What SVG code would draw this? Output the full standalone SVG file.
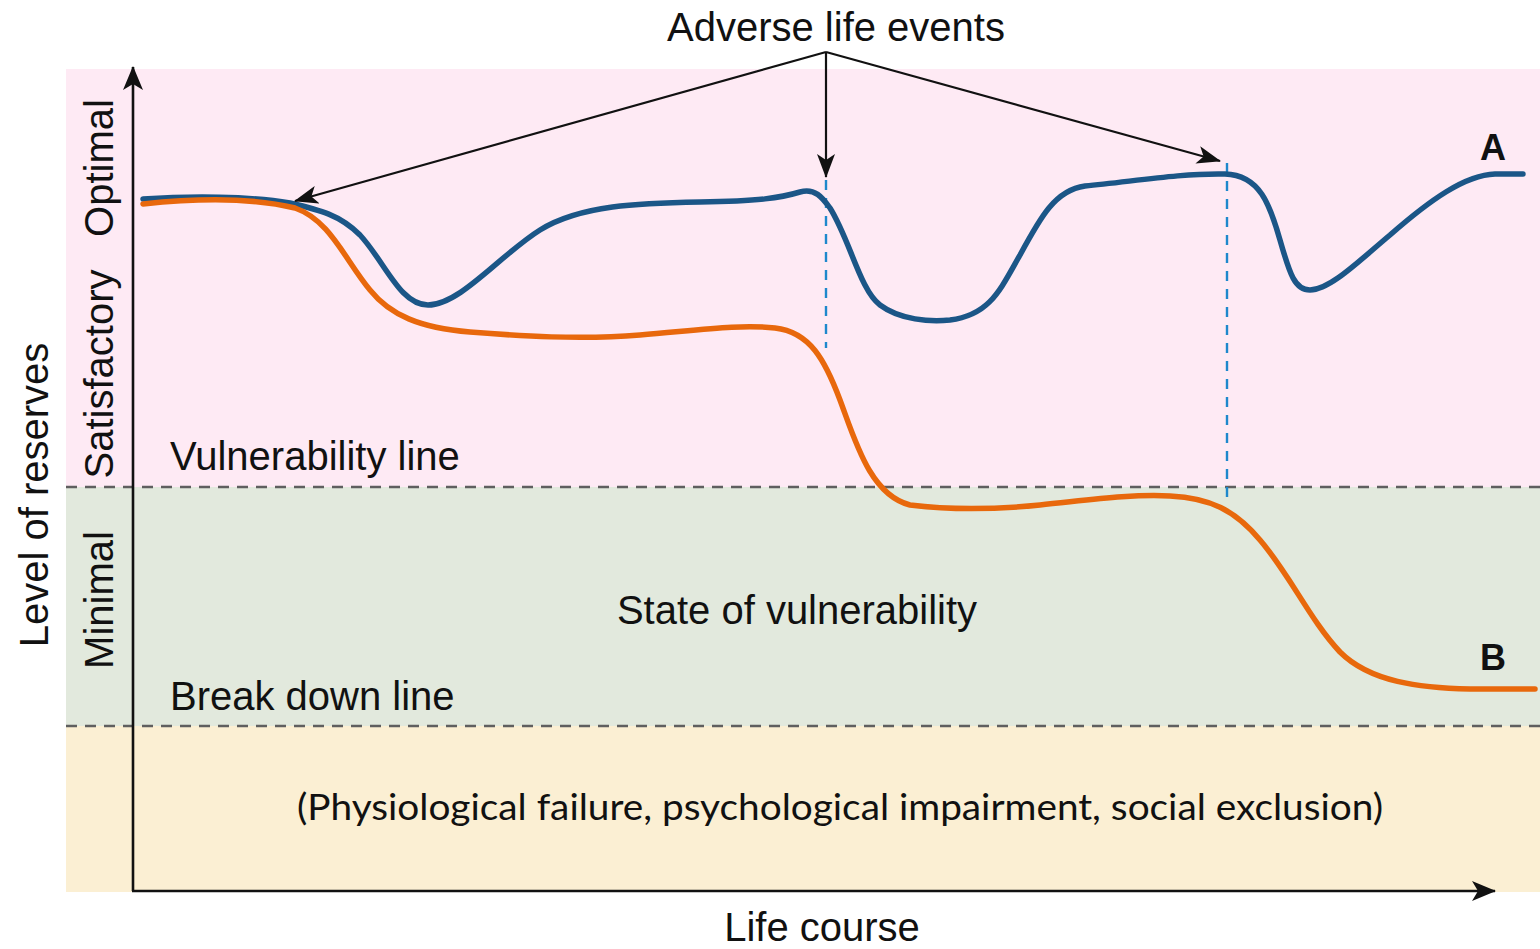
<svg xmlns="http://www.w3.org/2000/svg" width="1540" height="949" viewBox="0 0 1540 949">
<style>
.t{font-family:"Liberation Sans",Arial,sans-serif;fill:#111;}
.lbl{font-size:40px;}
.dash{stroke:#5f5f5f;stroke-width:2.4;stroke-dasharray:11 8;fill:none;}
.vd{stroke:#1e88cc;stroke-width:2.4;stroke-dasharray:10 8;fill:none;}
.ax{stroke:#111;stroke-width:2.6;fill:none;}
.arr{stroke:#111;stroke-width:2.2;fill:none;marker-end:url(#ah);}
</style>
<defs>
<marker id="ah" viewBox="0 0 24 18" refX="23" refY="9" markerWidth="24" markerHeight="18" markerUnits="userSpaceOnUse" orient="auto">
<path d="M0,0 L24,9 L0,18 L6,9 Z" fill="#111"/>
</marker>
<marker id="axh" viewBox="0 0 24 20" refX="23" refY="10" markerWidth="24" markerHeight="20" markerUnits="userSpaceOnUse" orient="auto">
<path d="M0,0 L24,10 L0,20 L6,10 Z" fill="#111"/>
</marker>
</defs>

<g id="zones">
<rect x="66" y="69" width="1474" height="418" fill="#feeaf4"/>
<rect x="66" y="487" width="1474" height="239" fill="#e2e9dd"/>
<rect x="66" y="726" width="1474" height="166" fill="#fbefd3"/>
<line class="dash" x1="66" y1="487" x2="1540" y2="487"/>
<line class="dash" x1="66" y1="726" x2="1540" y2="726"/>
</g>

<g id="axes">
<line class="ax" x1="133" y1="891" x2="133" y2="67" marker-end="url(#axh)"/>
<line class="ax" x1="132" y1="891" x2="1495" y2="891" marker-end="url(#axh)"/>
</g>

<g id="y-labels">
<text class="t lbl" transform="translate(48,495) rotate(-90)" text-anchor="middle">Level of reserves</text>
<text class="t lbl" transform="translate(113,168) rotate(-90)" text-anchor="middle">Optimal</text>
<text class="t lbl" transform="translate(113,374) rotate(-90)" text-anchor="middle">Satisfactory</text>
<text class="t lbl" transform="translate(113,600) rotate(-90)" text-anchor="middle">Minimal</text>
</g>

<g id="zone-labels">
<text class="t lbl" x="170" y="470">Vulnerability line</text>
<text class="t lbl" x="170" y="710">Break down line</text>
<text class="t lbl" x="797" y="624" text-anchor="middle">State of vulnerability</text>
<text class="t" x="297" y="820" font-size="37" textLength="1086" lengthAdjust="spacingAndGlyphs" style="font-family:Lato,'Open Sans',sans-serif">(Physiological failure, psychological impairment, social exclusion)</text>
<text class="t lbl" x="822" y="941" text-anchor="middle">Life course</text>
</g>

<g id="event-markers">
<line class="vd" x1="826" y1="180" x2="826" y2="348"/>
<line class="vd" x1="1227" y1="163" x2="1227" y2="497"/>
</g>

<g id="curve-A">
<path d="M143,199 C190,196 250,196 290,203 C320,210 340,215 360,235 C385,262 400,305 428,305 C460,305 500,255 540,230 C580,205 640,203 700,202 C760,201 780,198 800,192 C815,188 822,197 830,208 C850,240 860,290 880,305 C900,320 930,322 950,320 C990,315 1000,290 1020,255 C1040,218 1055,190 1085,186 C1130,182 1180,173 1225,174 C1260,175 1270,205 1280,240 C1290,275 1295,290 1310,290 C1330,290 1360,260 1390,235 C1430,200 1465,175 1495,174 L1523,174" fill="none" stroke="#1b5687" stroke-width="5.5" stroke-linecap="round"/>
<text class="t" x="1493" y="160" font-size="36" font-weight="bold" text-anchor="middle">A</text>
</g>

<g id="curve-B">
<path d="M143,204 C190,199 250,197 295,208 C330,220 345,260 370,290 C390,315 420,328 470,332 C520,336 580,340 640,335 C700,330 740,324 775,328 C810,332 825,360 840,400 C855,440 870,495 910,505 C950,510 990,510 1040,505 C1090,500 1130,494 1170,496 C1210,498 1235,510 1260,540 C1290,575 1310,620 1340,652 C1370,682 1420,688 1470,689 L1535,689" fill="none" stroke="#e8680c" stroke-width="5.5" stroke-linecap="round"/>
<text class="t" x="1493" y="670" font-size="36" font-weight="bold" text-anchor="middle">B</text>
</g>

<g id="adverse-events">
<text class="t" x="836" y="41" font-size="40" text-anchor="middle">Adverse life events</text>
</g>

<g id="connectors">
<line class="arr" x1="826" y1="52" x2="295" y2="201"/>
<line class="arr" x1="826" y1="52" x2="826" y2="177"/>
<line class="arr" x1="826" y1="52" x2="1220" y2="161"/>
</g>
</svg>
